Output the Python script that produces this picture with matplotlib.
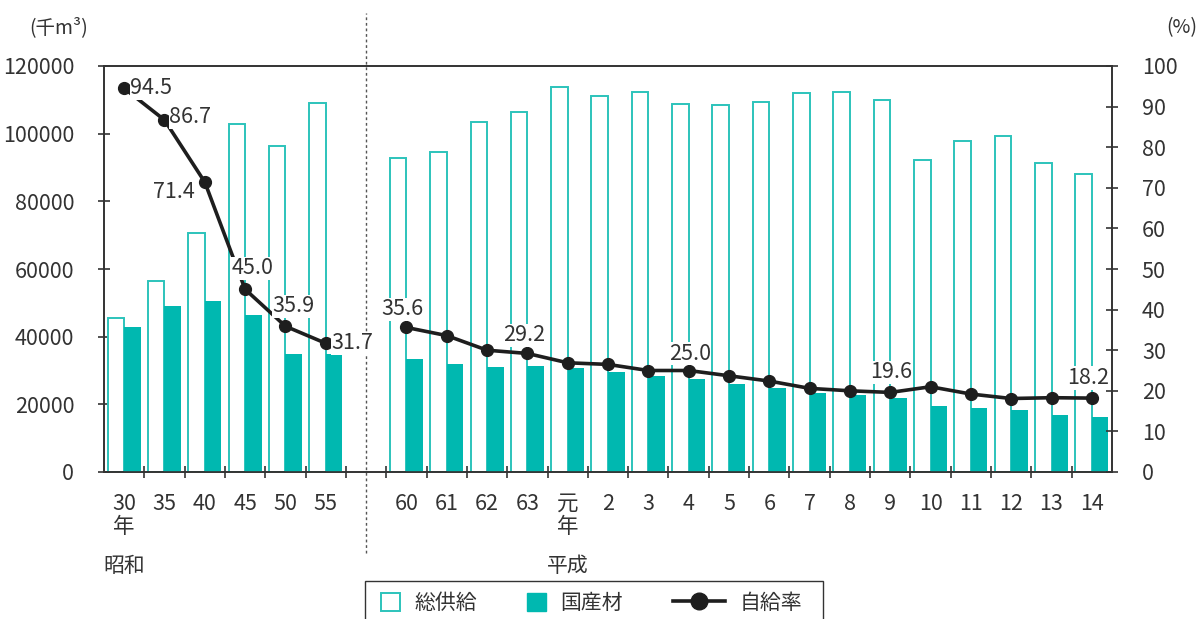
import numpy as np
import matplotlib
matplotlib.use('Agg')
import matplotlib.pyplot as plt
import matplotlib.patches as mpatches
from matplotlib.lines import Line2D
from matplotlib.legend_handler import HandlerPatch

plt.rcParams['font.family'] = ['Noto Sans CJK JP', 'DejaVu Sans']

# data (千m3, %)
showa_labels = ['30\n年', '35', '40', '45', '50', '55']
heisei_labels = ['60', '61', '62', '63', '元\n年', '2', '3', '4', '5', '6', '7', '8', '9',
                 '10', '11', '12', '13', '14']
total_supply = [45400, 56500, 70500, 102800, 96400, 109000,
                92900, 94700, 103400, 106300, 113900, 111200, 112200, 108700, 108600,
                109500, 111900, 112300, 110000, 92100, 97900, 99200, 91200, 88100]
domestic = [43000, 49200, 50500, 46400, 34800, 34800,
            33300, 31800, 31100, 31200, 30700, 29600, 28300, 27400, 25900,
            24700, 23300, 22800, 21800, 19500, 18900, 18200, 16900, 16200]
self_rate = [94.5, 86.7, 71.4, 45.0, 35.9, 31.7,
             35.6, 33.6, 30.0, 29.2, 26.9, 26.5, 25.0, 25.0, 23.7,
             22.4, 20.6, 20.0, 19.6, 21.0, 19.2, 18.1, 18.3, 18.2]
labeled = {0: (6, 0, 'left'), 1: (5, -3, 'left'), 2: (-10, 10, 'right'), 3: (7, -21, 'center'),
           4: (8, -20, 'center'), 5: (6, 0, 'left'), 6: (-4, -18, 'center'), 9: (-3, -18, 'center'),
           13: (1, -17, 'center'), 18: (1, -20, 'center'), 23: (-4, -20, 'center')}

teal = '#00b8b0'
teal_edge = '#2cc3bb'
ink = '#333333'

x = np.r_[np.arange(6), np.arange(7, 25)]

fig = plt.figure(figsize=(12.03, 6.19), dpi=100)
ax = fig.add_axes([104 / 1203, 1 - 472 / 619, 1008 / 1203, 406 / 619])
ax2 = ax.twinx()

w = 0.41
ax.bar(x - w / 2, total_supply, w, facecolor='white', edgecolor=teal_edge, linewidth=1.4, zorder=2)
ax.bar(x + w / 2, domestic, w, color=teal, linewidth=0, zorder=3)

ax.set_xlim(-0.5, 24.5)
ax.set_ylim(0, 120000)
ax.set_yticks(np.arange(0, 120001, 20000))
ax.set_xticks(x)
ax.set_xticklabels(showa_labels + heisei_labels, linespacing=1.05)
ax.set_xticks(np.arange(0.5, 24, 1), minor=True)
ax.tick_params(axis='x', which='major', length=0, pad=15, labelsize=15.5, colors=ink)
ax.tick_params(axis='x', which='minor', direction='inout', length=9, width=1.2, color=ink)
ax.tick_params(axis='y', direction='inout', length=9, width=1.2, pad=17, labelsize=15.5,
               colors=ink)

ax2.set_ylim(0, 100)
ax2.set_yticks(np.arange(0, 101, 10))
ax2.tick_params(axis='y', direction='inout', length=9, width=1.2, pad=17, labelsize=15.5,
                colors=ink)

for a in (ax, ax2):
    for s in a.spines.values():
        s.set_color(ink)
        s.set_linewidth(1.2)

ax2.set_zorder(ax.get_zorder() + 1)
ax2.patch.set_visible(False)

rate = np.array(self_rate)
ax2.plot(x[:6], rate[:6], color='#1e1e1e', lw=2.6, marker='o', ms=8.5, zorder=4)
ax2.plot(x[6:], rate[6:], color='#1e1e1e', lw=2.6, marker='o', ms=8.5, zorder=4)

for i, (dx, dy, ha) in labeled.items():
    ax2.annotate(f'{self_rate[i]:.1f}', (x[i], self_rate[i]), xytext=(dx, -dy),
                 textcoords='offset pixels', ha=ha, va='center', fontsize=15.5, color=ink,
                 bbox=dict(facecolor='white', edgecolor='none', pad=0.5), zorder=5)

# 昭和 / 平成 divider
ax.axvline(6, ymin=-0.2, ymax=1.13, clip_on=False, color='#555555', lw=1,
           ls=(0, (2, 2)), zorder=1)

fig.text(124 / 1203, 1 - 566 / 619, '昭和', ha='center', va='center', fontsize=15, color=ink)
fig.text(568 / 1203, 1 - 566 / 619, '平成', ha='center', va='center', fontsize=15, color=ink)
fig.text(59 / 1203, 1 - 28 / 619, '(千m³)', ha='center', va='center', fontsize=14, color=ink)
fig.text(1182 / 1203, 1 - 28 / 619, '(%)', ha='center', va='center', fontsize=14, color=ink)


# legend: one key per entry, boxed together
def square(legend, orig_handle, xdescent, ydescent, width, height, fontsize):
    return mpatches.Rectangle((-xdescent, -ydescent), height, height)


keys = [(mpatches.Patch(facecolor='white', edgecolor=teal_edge, linewidth=1.4), '総供給', 381, 1.0, 0.6),
        (mpatches.Patch(facecolor=teal, edgecolor=teal), '国産材', 527, 1.0, 0.6),
        (Line2D([], [], color='#1e1e1e', lw=2.6, marker='o', ms=12), '自給率', 673, 2.5, 0.7)]
for h, lab, x0, hl, tp in keys:
    lg = fig.legend([h], [lab], loc='center left', bbox_to_anchor=(x0 / 1203, 1 - 603 / 619),
                    frameon=False, borderpad=0, borderaxespad=0, fontsize=15,
                    handlelength=hl, handleheight=1.0, handletextpad=tp,
                    handler_map={mpatches.Patch: HandlerPatch(patch_func=square)})
    for t in lg.get_texts():
        t.set_color(ink)

fig.patches.append(mpatches.Rectangle((365 / 1203, 1 - 630 / 619), 458 / 1203, 49 / 619,
                                      transform=fig.transFigure, fill=False,
                                      edgecolor=ink, lw=1.0))

fig.savefig('out.png', dpi=100)
